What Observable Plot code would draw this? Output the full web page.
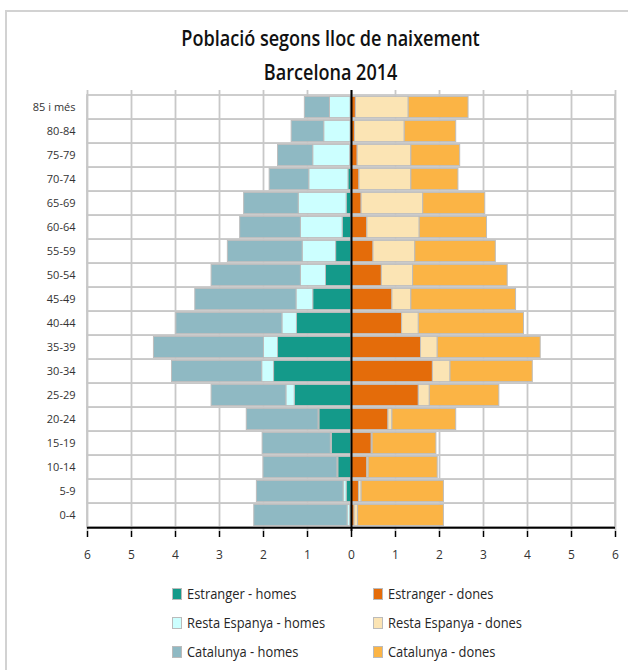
<!DOCTYPE html>
<html><head><meta charset="utf-8">
<script src="https://cdn.jsdelivr.net/npm/d3@7"></script>
<script src="https://cdn.jsdelivr.net/npm/@observablehq/plot@0.6"></script>
<style>
html,body{margin:0;padding:0;background:#fff;overflow:hidden;}
body{font-family:"Open Sans",sans-serif;}
#wrap{position:absolute;left:5px;top:10px;width:660px;height:720px;border:2px solid #d2d2d2;box-sizing:border-box;}
#title{width:648px;height:68px;padding-top:9px;text-align:center;font-size:21px;line-height:34px;color:#111;font-weight:600;}
#title div span{display:inline-block;transform:scaleX(0.86);transform-origin:center;}
#legend{display:grid;grid-template-columns:201px 201px;padding-left:165px;padding-top:4px;font-size:14px;line-height:29px;color:#262626;}
.item{display:flex;align-items:center;white-space:nowrap;}
.item span.t{display:inline-block;transform:scaleX(0.92);transform-origin:left center;}
.sw{display:inline-block;width:8px;height:10px;border:1px solid #bbb;margin-right:5px;}
</style>
</head><body>
<div id="wrap">
  <div id="title"></div>
  <div id="chart"></div>
  <div id="legend"></div>
</div>
<script>
const titleLines = ["Població segons lloc de naixement", "Barcelona 2014"];
const ages = ["0-4","5-9","10-14","15-19","20-24","25-29","30-34","35-39","40-44","45-49","50-54","55-59","60-64","65-69","70-74","75-79","80-84","85 i més"];
const xTicks = [-6,-5,-4,-3,-2,-1,0,1,2,3,4,5,6];
const seriesNames = ["Estranger - homes","Resta Espanya - homes","Catalunya - homes","Estranger - dones","Resta Espanya - dones","Catalunya - dones"];
const seriesColors = ["#149a8a","#ccffff","#8fb9c3","#e46c0a","#fbe4b4","#fbb445"];
// values in % of population (homes shown to the left)
const estrangerHomes = [0.03,0.11,0.30,0.45,0.73,1.29,1.76,1.67,1.24,0.87,0.58,0.35,0.20,0.11,0.07,0.03,0.02,0.02];
const restaHomes     = [0.06,0.07,0.02,0.02,0.02,0.19,0.27,0.32,0.33,0.38,0.57,0.76,0.95,1.09,0.89,0.84,0.60,0.47];
const catalunyaHomes = [2.12,1.97,1.68,1.55,1.63,1.70,2.05,2.50,2.41,2.30,2.03,1.70,1.38,1.24,0.90,0.80,0.74,0.57];
const estrangerDones = [0.07,0.17,0.36,0.46,0.84,1.53,1.85,1.58,1.15,0.93,0.69,0.50,0.36,0.23,0.18,0.14,0.08,0.10];
const restaDones     = [0.08,0.06,0.03,0.02,0.09,0.25,0.40,0.38,0.38,0.43,0.71,0.95,1.19,1.40,1.18,1.22,1.13,1.20];
const catalunyaDones = [1.95,1.87,1.57,1.45,1.45,1.58,1.87,2.34,2.39,2.38,2.15,1.83,1.53,1.41,1.07,1.11,1.17,1.36];

const seriesValues = [estrangerHomes, restaHomes, catalunyaHomes, estrangerDones, restaDones, catalunyaDones];
const signs = [-1,-1,-1,1,1,1];
const rows = [];
seriesNames.forEach((s, k) => {
  ages.forEach((a, i) => rows.push({age: a, series: s, value: signs[k] * seriesValues[k][i]}));
});

document.getElementById("title").innerHTML = titleLines.map(t => `<div><span>${t}</span></div>`).join("");

const xMin = xTicks[0], xMax = xTicks[xTicks.length - 1];
const chart = Plot.plot({
  width: 621,
  height: 486,
  marginLeft: 80,
  marginRight: 13,
  marginTop: 1,
  marginBottom: 44,
  style: {fontFamily: '"Open Sans",sans-serif', background: "transparent"},
  x: {domain: [xMin, xMax], axis: null, label: null},
  y: {domain: ages.slice().reverse(), padding: 0, axis: null, label: null},
  color: {domain: seriesNames, range: seriesColors},
  marks: [
    Plot.barX(ages, {y: d => d, x1: xMin, x2: xMax, fill: "white", stroke: "#c8c8c8", strokeWidth: 1.8}),
    Plot.gridX(xTicks, {stroke: "#c8c8c8", strokeOpacity: 1, strokeWidth: 1.8}),
    Plot.barX(rows, Plot.stackX({y: "age", x: "value", z: "series", fill: "series", stroke: "#bdbdbd", strokeWidth: 1, insetTop: 1.4, insetBottom: 1.4})),
    Plot.ruleX([0], {stroke: "black", strokeWidth: 2}),
    Plot.axisY({tickSize: 0, tickPadding: 12, fontSize: 11, fill: "#333", label: null}),
    Plot.axisX(xTicks, {anchor: "bottom", tickSize: 6, tickPadding: 13, tickFormat: d => Math.abs(d), fontSize: 12, stroke: "black", fill: "#333", strokeWidth: 1.5, label: null}),
    Plot.ruleY([ages[0]], {stroke: "black", strokeWidth: 2, dy: 12.25, x1: xMin, x2: xMax})
  ]
});
document.getElementById("chart").appendChild(chart);

const legendOrder = [0,3,1,4,2,5];
document.getElementById("legend").innerHTML = legendOrder.map(k =>
  `<div class="item"><span class="sw" style="background:${seriesColors[k]}"></span><span class="t">${seriesNames[k]}</span></div>`).join("");
</script>
</body></html>
